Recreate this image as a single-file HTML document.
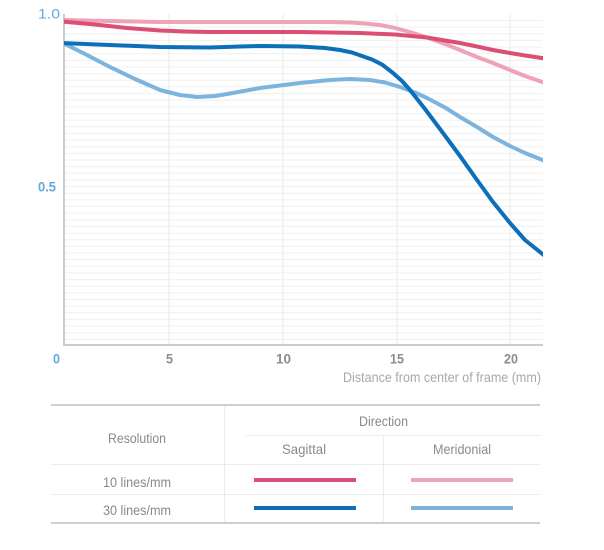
<!DOCTYPE html>
<html>
<head>
<meta charset="utf-8">
<style>
html,body{margin:0;padding:0;background:#fff;}
svg{display:block;}
text{font-family:"Liberation Sans",sans-serif;}
</style>
</head>
<body>
<svg width="604" height="550" viewBox="0 0 604 550" xmlns="http://www.w3.org/2000/svg">
<defs>
<clipPath id="pc"><rect x="64" y="0" width="479" height="346"/></clipPath>
</defs>
<!-- horizontal grid -->
<g stroke="#f0f0f0" stroke-width="1">
<line x1="64" x2="543" y1="20.5" y2="20.5"/><line x1="64" x2="543" y1="27.1" y2="27.1"/><line x1="64" x2="543" y1="33.8" y2="33.8"/><line x1="64" x2="543" y1="40.4" y2="40.4"/><line x1="64" x2="543" y1="47.1" y2="47.1"/><line x1="64" x2="543" y1="53.7" y2="53.7"/><line x1="64" x2="543" y1="60.4" y2="60.4"/><line x1="64" x2="543" y1="67.0" y2="67.0"/><line x1="64" x2="543" y1="73.6" y2="73.6"/><line x1="64" x2="543" y1="80.3" y2="80.3"/><line x1="64" x2="543" y1="86.9" y2="86.9"/><line x1="64" x2="543" y1="93.6" y2="93.6"/><line x1="64" x2="543" y1="100.2" y2="100.2"/><line x1="64" x2="543" y1="106.9" y2="106.9"/><line x1="64" x2="543" y1="113.5" y2="113.5"/><line x1="64" x2="543" y1="120.1" y2="120.1"/><line x1="64" x2="543" y1="126.8" y2="126.8"/><line x1="64" x2="543" y1="133.4" y2="133.4"/><line x1="64" x2="543" y1="140.1" y2="140.1"/><line x1="64" x2="543" y1="146.7" y2="146.7"/><line x1="64" x2="543" y1="153.4" y2="153.4"/><line x1="64" x2="543" y1="160.0" y2="160.0"/><line x1="64" x2="543" y1="166.6" y2="166.6"/><line x1="64" x2="543" y1="173.3" y2="173.3"/><line x1="64" x2="543" y1="179.9" y2="179.9"/><line x1="64" x2="543" y1="186.6" y2="186.6"/><line x1="64" x2="543" y1="193.2" y2="193.2"/><line x1="64" x2="543" y1="199.9" y2="199.9"/><line x1="64" x2="543" y1="206.5" y2="206.5"/><line x1="64" x2="543" y1="213.1" y2="213.1"/><line x1="64" x2="543" y1="219.8" y2="219.8"/><line x1="64" x2="543" y1="226.4" y2="226.4"/><line x1="64" x2="543" y1="233.1" y2="233.1"/><line x1="64" x2="543" y1="239.7" y2="239.7"/><line x1="64" x2="543" y1="246.4" y2="246.4"/><line x1="64" x2="543" y1="253.0" y2="253.0"/><line x1="64" x2="543" y1="259.6" y2="259.6"/><line x1="64" x2="543" y1="266.3" y2="266.3"/><line x1="64" x2="543" y1="272.9" y2="272.9"/><line x1="64" x2="543" y1="279.6" y2="279.6"/><line x1="64" x2="543" y1="286.2" y2="286.2"/><line x1="64" x2="543" y1="292.9" y2="292.9"/><line x1="64" x2="543" y1="299.5" y2="299.5"/><line x1="64" x2="543" y1="306.1" y2="306.1"/><line x1="64" x2="543" y1="312.8" y2="312.8"/><line x1="64" x2="543" y1="319.4" y2="319.4"/><line x1="64" x2="543" y1="326.1" y2="326.1"/><line x1="64" x2="543" y1="332.7" y2="332.7"/><line x1="64" x2="543" y1="339.4" y2="339.4"/>
</g>
<!-- vertical grid -->
<g stroke="#e9e9e9" stroke-width="1">
<line x1="169" x2="169" y1="14" y2="345"/>
<line x1="283" x2="283" y1="14" y2="345"/>
<line x1="397" x2="397" y1="14" y2="345"/>
<line x1="510" x2="510" y1="14" y2="345"/>
</g>
<!-- axes -->
<line x1="64" x2="64" y1="14" y2="346" stroke="#cccccc" stroke-width="2"/>
<line x1="63" x2="543" y1="345" y2="345" stroke="#cccccc" stroke-width="2"/>

<!-- curves -->
<g clip-path="url(#pc)" fill="none" stroke-width="4" stroke-linejoin="round" stroke-linecap="round">
<polyline stroke="#eea3b7" points="62,20 110,21 160,22 210,22 260,22 300,22 330,22 350,22.5 365,23.5 380,25 393,27.5 410,32 427,37.5 445,44 460,50 477,57 493,63 510,70 525,76 545,83"/>
<polyline stroke="#dc4f74" points="62,21.5 95,24.5 127,28 160,30.5 185,31.5 210,32 260,32 300,32 330,32.5 360,33 395,34.5 427,37.5 445,40.5 460,43 477,46.5 493,50 510,53 525,55.5 545,58.5"/>
<polyline stroke="#7db4de" points="62,42.5 85,54 110,67 135,79 160,90 180,95 197,97 215,96 230,93.5 260,88 300,83 330,80 350,79 370,80 385,82.5 400,87 415,92.5 427,98 445,107.5 460,117 477,127 493,137 510,146 525,153 545,161"/>
<polyline stroke="#0b6fb9" points="62,43 110,45 160,47 210,47.5 240,46.5 260,46 300,46.5 325,48 340,50 352,52.5 362,56 372,59.5 382,64.5 393,73 402,81 410,90 425,109 443,133 460,156 477,180 493,202 510,223 525,240 545,256"/>
</g>

<!-- axis labels -->
<text x="38" y="18.5" font-size="14" fill="#62a9dc" textLength="22" lengthAdjust="spacingAndGlyphs">1.0</text>
<text x="38" y="191.5" font-size="14" font-weight="bold" fill="#62a9dc" textLength="18" lengthAdjust="spacingAndGlyphs">0.5</text>
<text x="53" y="363.5" font-size="14" font-weight="bold" fill="#62a9dc" textLength="7" lengthAdjust="spacingAndGlyphs">0</text>
<text x="166" y="363.5" font-size="14" font-weight="bold" fill="#8c8c8c" textLength="7" lengthAdjust="spacingAndGlyphs">5</text>
<text x="276" y="363.5" font-size="14" font-weight="bold" fill="#8c8c8c" textLength="15" lengthAdjust="spacingAndGlyphs">10</text>
<text x="390" y="363.5" font-size="14" font-weight="bold" fill="#8c8c8c" textLength="14" lengthAdjust="spacingAndGlyphs">15</text>
<text x="504" y="363.5" font-size="14" font-weight="bold" fill="#8c8c8c" textLength="14" lengthAdjust="spacingAndGlyphs">20</text>
<text x="343" y="382" font-size="14" fill="#a8a8a8" textLength="198" lengthAdjust="spacingAndGlyphs">Distance from center of frame (mm)</text>

<!-- table -->
<g stroke="#cfcfcf">
<line x1="51" x2="540" y1="405" y2="405" stroke-width="2"/>
<line x1="51" x2="540" y1="523" y2="523" stroke-width="2"/>
</g>
<g stroke="#ececec" stroke-width="1">
<line x1="224.5" x2="224.5" y1="406" y2="522"/>
<line x1="383.5" x2="383.5" y1="435" y2="522"/>
<line x1="245" x2="540" y1="435.5" y2="435.5"/>
<line x1="51" x2="540" y1="464.5" y2="464.5"/>
<line x1="51" x2="540" y1="494.5" y2="494.5"/>
</g>
<g font-size="14" fill="#8a8a8a">
<text x="108" y="443" textLength="58" lengthAdjust="spacingAndGlyphs">Resolution</text>
<text x="359" y="426" textLength="49" lengthAdjust="spacingAndGlyphs">Direction</text>
<text x="282" y="454" textLength="44" lengthAdjust="spacingAndGlyphs">Sagittal</text>
<text x="433" y="454" textLength="58" lengthAdjust="spacingAndGlyphs">Meridonial</text>
<text x="103" y="487" textLength="68" lengthAdjust="spacingAndGlyphs">10 lines/mm</text>
<text x="103" y="515" textLength="68" lengthAdjust="spacingAndGlyphs">30 lines/mm</text>
</g>
<g stroke-width="4">
<line x1="254" x2="356" y1="480" y2="480" stroke="#dc4f74"/>
<line x1="411" x2="513" y1="480" y2="480" stroke="#eea3b7"/>
<line x1="254" x2="356" y1="508" y2="508" stroke="#0b6fb9"/>
<line x1="411" x2="513" y1="508" y2="508" stroke="#7db4de"/>
</g>
</svg>
</body>
</html>
